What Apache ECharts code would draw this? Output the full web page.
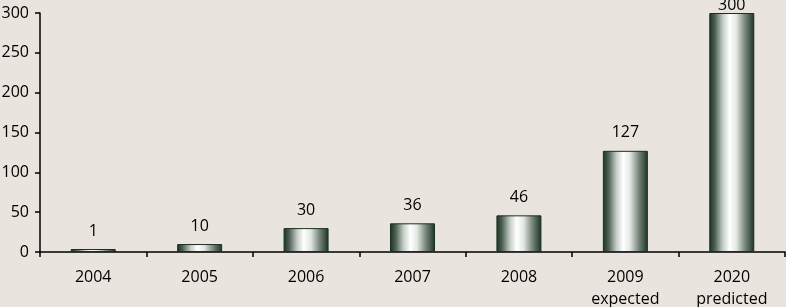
<!DOCTYPE html>
<html>
<head>
<meta charset="utf-8">
<style>
html,body{margin:0;padding:0;background:#e9e5de;}
#c{width:786px;height:307px;}
</style>
<script src="https://cdn.jsdelivr.net/npm/echarts@6/dist/echarts.min.js"></script>
</head>
<body>
<div id="c"></div>
<script>
const categories = ["2004", "2005", "2006", "2007", "2008", "2009\nexpected", "2020\npredicted"];
const values = [1, 10, 30, 36, 46, 127, 300];
const yTicks = [0, 50, 100, 150, 200, 250, 300];

const chart = echarts.init(document.getElementById('c'), null, {renderer: 'canvas'});
const grad = new echarts.graphic.LinearGradient(0, 0, 1, 0, [
  {offset: 0, color: '#1a3323'},
  {offset: 0.12, color: '#4a5e51'},
  {offset: 0.3, color: '#c4ccc6'},
  {offset: 0.45, color: '#ffffff'},
  {offset: 0.6, color: '#e3e8e4'},
  {offset: 0.8, color: '#76847a'},
  {offset: 1, color: '#1a3323'}
]);
const fontFamily = '"Open Sans", "DejaVu Sans", sans-serif';
chart.setOption({
  backgroundColor: '#e9e5de',
  animation: false,
  grid: {left: 40, right: 1, top: 13, bottom: 55, containLabel: false, outerBoundsMode: 'none'},
  xAxis: {
    type: 'category',
    data: categories,
    axisLine: {lineStyle: {color: '#000', width: 1.5}},
    axisTick: {show: true, length: 5, lineStyle: {color: '#000', width: 1.5}},
    axisLabel: {color: '#000', fontSize: 16, fontFamily: fontFamily, margin: 14, lineHeight: 22, interval: 0}
  },
  yAxis: {
    type: 'value',
    min: yTicks[0],
    max: yTicks[yTicks.length - 1],
    interval: 50,
    splitLine: {show: false},
    axisLine: {show: true, lineStyle: {color: '#000', width: 1.5}},
    axisTick: {show: true, length: 5, lineStyle: {color: '#000', width: 1.5}},
    axisLabel: {color: '#000', fontSize: 16, fontFamily: fontFamily, margin: 11}
  },
  series: [{
    type: 'bar',
    barWidth: 45,
    barMinHeight: 3,
    data: values.map((v, i) => i === values.length - 1
      ? {value: v, label: {distance: 0}}
      : v),
    itemStyle: {color: grad, borderColor: '#1a3022', borderWidth: 1},
    label: {
      show: true, position: 'top', distance: 10,
      color: '#000', fontSize: 16, fontFamily: fontFamily
    }
  }]
});
</script>
</body>
</html>
